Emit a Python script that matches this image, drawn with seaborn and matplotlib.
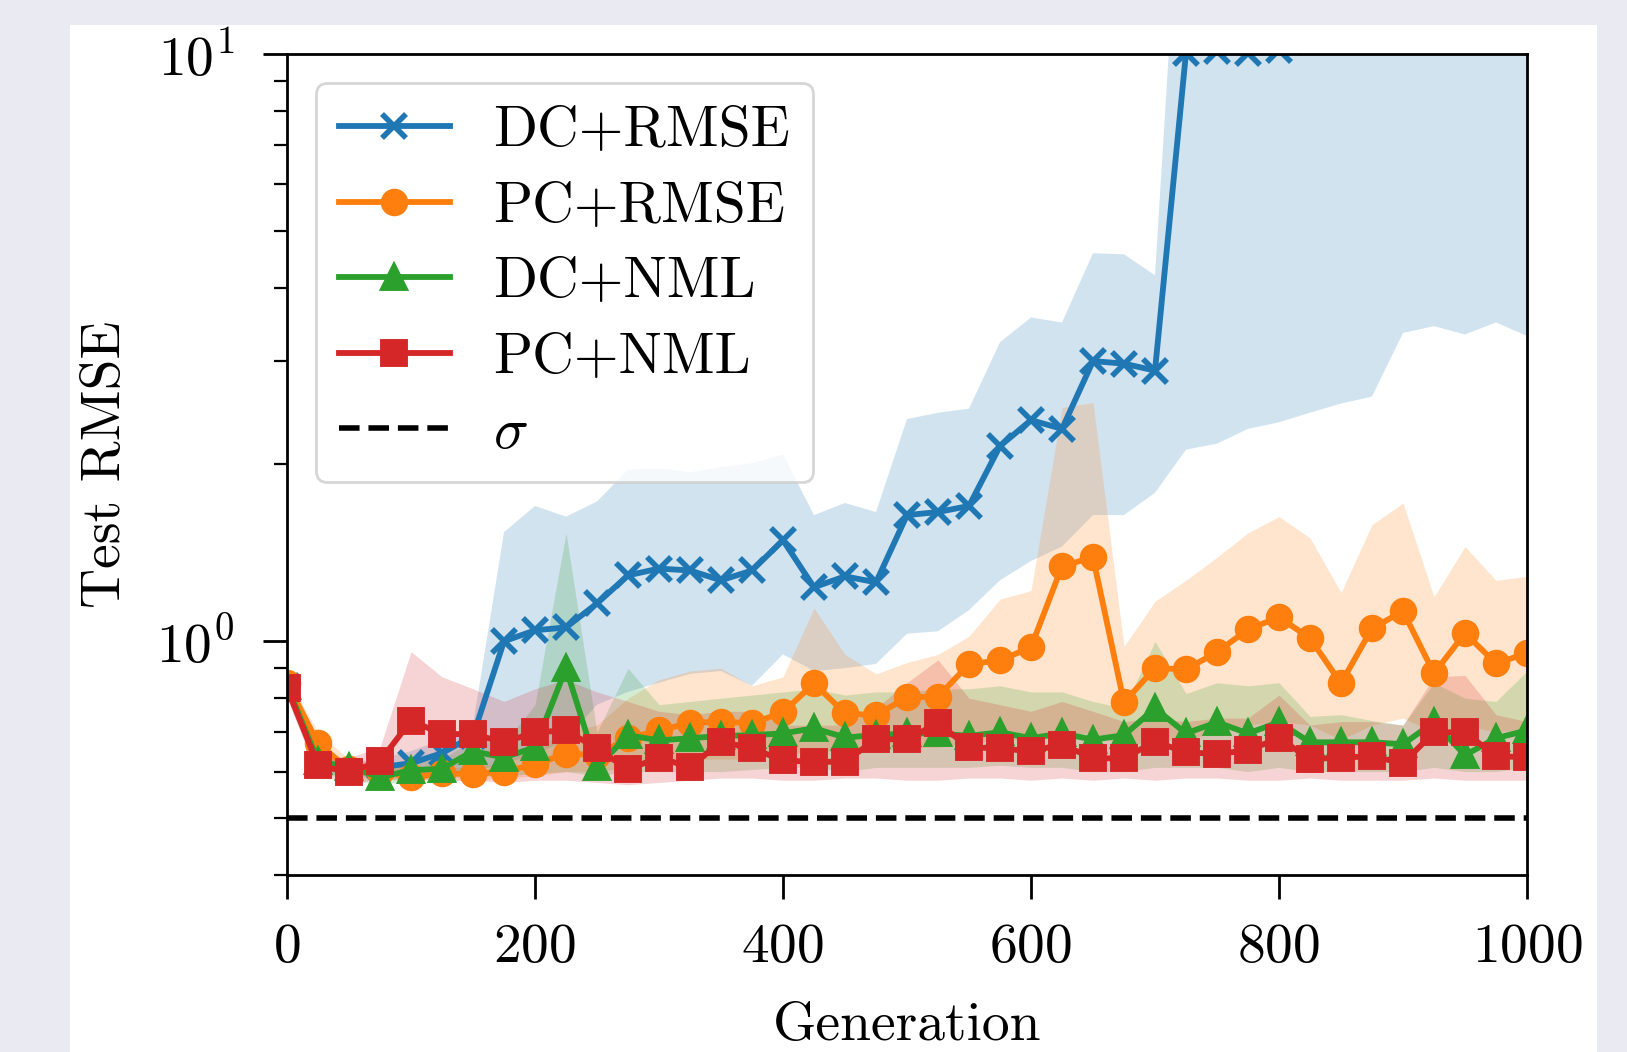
import numpy as np
import pandas as pd
import matplotlib
matplotlib.use("Agg")
import matplotlib.pyplot as plt
from matplotlib.patches import Rectangle
from matplotlib.ticker import NullFormatter, FixedLocator
import seaborn as sns

# ---------------- data ----------------
generation = list(range(0, 1001, 25))

dc_rmse = [0.84, 0.62, 0.60, 0.61, 0.62, 0.645, 0.69, 1.00, 1.044, 1.056, 1.16, 1.295, 1.33, 1.32,
           1.27, 1.32, 1.486, 1.236, 1.29, 1.26, 1.64, 1.66, 1.70, 2.15, 2.38, 2.30, 3.00, 2.97,
           2.89, 10.05, 10.1, 10.05, 10.15, 10.5, 13.0, 15.0, 17.0, 16.0, 18.0, 20.0, 19.0]
dc_rmse_lo = [0.82, 0.60, 0.585, 0.59, 0.59, 0.60, 0.60, 0.62, 0.64, 0.68, 0.78, 0.82, 0.85, 0.88,
              0.89, 0.84, 0.95, 0.89, 0.90, 0.915, 1.03, 1.04, 1.13, 1.27, 1.37, 1.45, 1.64, 1.64,
              1.79, 2.12, 2.17, 2.30, 2.36, 2.45, 2.54, 2.61, 3.35, 3.44, 3.33, 3.49, 3.31]
dc_rmse_hi = [0.86, 0.66, 0.62, 0.63, 0.65, 0.68, 0.72, 1.534, 1.70, 1.63, 1.73, 1.96, 1.97, 1.94,
              1.98, 2.01, 2.08, 1.64, 1.72, 1.66, 2.39, 2.45, 2.49, 3.23, 3.56, 3.49, 4.58, 4.56,
              4.20, 30.0, 32.0, 35.0, 35.0, 38.0, 40.0, 42.0, 45.0, 45.0, 48.0, 50.0, 50.0]

pc_rmse = [0.85, 0.67, 0.605, 0.60, 0.587, 0.596, 0.594, 0.60, 0.617, 0.644, 0.64, 0.684, 0.705,
           0.726, 0.73, 0.725, 0.757, 0.848, 0.754, 0.748, 0.803, 0.805, 0.914, 0.928, 0.977, 1.342,
           1.39, 0.787, 0.90, 0.896, 0.958, 1.048, 1.099, 1.012, 0.848, 1.052, 1.125, 0.882, 1.032,
           0.917, 0.954]
pc_rmse_lo = [0.83, 0.64, 0.59, 0.585, 0.575, 0.58, 0.58, 0.585, 0.59, 0.60, 0.60, 0.61, 0.62, 0.63,
              0.63, 0.63, 0.64, 0.65, 0.65, 0.65, 0.66, 0.66, 0.67, 0.68, 0.68, 0.69, 0.70, 0.66,
              0.68, 0.68, 0.70, 0.72, 0.73, 0.72, 0.68, 0.72, 0.74, 0.70, 0.72, 0.70, 0.71]
pc_rmse_hi = [0.87, 0.70, 0.63, 0.62, 0.61, 0.61, 0.61, 0.62, 0.66, 0.70, 0.72, 0.80, 0.86, 0.89,
              0.90, 0.84, 0.87, 1.14, 0.95, 0.88, 0.92, 0.95, 1.02, 1.18, 1.22, 2.50, 2.55, 0.98,
              1.17, 1.27, 1.39, 1.53, 1.63, 1.50, 1.21, 1.58, 1.72, 1.19, 1.45, 1.27, 1.29]

dc_nml = [0.84, 0.625, 0.61, 0.587, 0.603, 0.607, 0.65, 0.634, 0.66, 0.90, 0.61, 0.692, 0.678, 0.684,
          0.69, 0.692, 0.697, 0.711, 0.686, 0.692, 0.697, 0.697, 0.69, 0.70, 0.684, 0.697, 0.68,
          0.692, 0.769, 0.697, 0.728, 0.697, 0.728, 0.673, 0.673, 0.673, 0.668, 0.728, 0.64, 0.684,
          0.705]
dc_nml_lo = [0.82, 0.60, 0.58, 0.57, 0.58, 0.585, 0.59, 0.59, 0.595, 0.60, 0.59, 0.60, 0.60, 0.60,
             0.60, 0.605, 0.61, 0.61, 0.60, 0.61, 0.61, 0.61, 0.61, 0.615, 0.61, 0.61, 0.60, 0.60,
             0.61, 0.61, 0.61, 0.60, 0.61, 0.60, 0.60, 0.60, 0.60, 0.61, 0.60, 0.60, 0.61]
dc_nml_hi = [0.86, 0.65, 0.625, 0.61, 0.625, 0.63, 0.68, 0.67, 0.78, 1.53, 0.70, 0.90, 0.78, 0.79,
             0.80, 0.81, 0.82, 0.83, 0.81, 0.82, 0.82, 0.83, 0.83, 0.84, 0.82, 0.82, 0.79, 0.77,
             1.00, 0.815, 0.85, 0.84, 0.85, 0.745, 0.75, 0.733, 0.72, 0.85, 0.80, 0.79, 0.89]

pc_nml = [0.832, 0.615, 0.598, 0.625, 0.733, 0.695, 0.695, 0.673, 0.700, 0.705, 0.657, 0.605, 0.634,
          0.61, 0.675, 0.657, 0.627, 0.623, 0.624, 0.681, 0.681, 0.725, 0.66, 0.657, 0.65, 0.667,
          0.632, 0.632, 0.675, 0.647, 0.643, 0.652, 0.684, 0.63, 0.634, 0.637, 0.62, 0.70, 0.70,
          0.637, 0.635]
pc_nml_lo = [0.80, 0.59, 0.575, 0.58, 0.585, 0.58, 0.58, 0.575, 0.58, 0.58, 0.575, 0.57, 0.575, 0.58,
             0.585, 0.585, 0.58, 0.58, 0.585, 0.585, 0.58, 0.58, 0.585, 0.585, 0.58, 0.585, 0.58,
             0.585, 0.58, 0.585, 0.585, 0.58, 0.58, 0.585, 0.58, 0.58, 0.58, 0.585, 0.58, 0.58, 0.58]
pc_nml_hi = [0.86, 0.64, 0.634, 0.66, 0.96, 0.87, 0.83, 0.79, 0.83, 0.86, 0.82, 0.79, 0.76, 0.75,
             0.76, 0.76, 0.72, 0.72, 0.72, 0.77, 0.85, 0.93, 0.80, 0.78, 0.76, 0.79, 0.76, 0.73,
             0.74, 0.73, 0.74, 0.74, 0.81, 0.72, 0.73, 0.73, 0.72, 0.87, 0.875, 0.75, 0.73]

sigma = 0.5

series_names = ["DC+RMSE", "PC+RMSE", "DC+NML", "PC+NML"]
series_means = [dc_rmse, pc_rmse, dc_nml, pc_nml]
series_lo = [dc_rmse_lo, pc_rmse_lo, dc_nml_lo, pc_nml_lo]
series_hi = [dc_rmse_hi, pc_rmse_hi, dc_nml_hi, pc_nml_hi]
colors = ["#1f77b4", "#ff7f0e", "#2ca02c", "#d62728"]
markers = ["x", "o", "^", "s"]

# ---------------- style ----------------
plt.rcParams.update({
    "font.family": "serif",
    "font.serif": ["cmr10"],
    "mathtext.fontset": "cm",
    "axes.unicode_minus": False,
    "axes.formatter.use_mathtext": True,
})

fig = plt.figure(figsize=(16.27, 10.52), dpi=100)
fig.patch.set_facecolor("#EAEAF2")
fig.add_artist(Rectangle((70 / 1627, 0), (1597 - 70) / 1627, 1 - 25 / 1052,
                         transform=fig.transFigure, facecolor="white",
                         edgecolor="none", zorder=0))

ax = fig.add_axes([287 / 1627, 1 - 875 / 1052, (1527 - 287) / 1627, (875 - 54) / 1052])
ax.set_facecolor("white")

for name, m, lo, hi, c, mk in zip(series_names, series_means, series_lo, series_hi, colors, markers):
    df = pd.DataFrame({"Generation": generation, "Test RMSE": m})
    sns.lineplot(data=df, x="Generation", y="Test RMSE", ax=ax, color=c, marker=mk,
                 markersize=17, markeredgewidth=2.8 if mk != "x" else 4.0,
                 markeredgecolor=c, markerfacecolor=c, linewidth=4.2, label=name)
    ax.fill_between(generation, lo, hi, color=c, alpha=0.2, linewidth=0)

ax.axhline(sigma, color="black", linestyle="--", linewidth=4, label=r"$\sigma$")

ax.set_yscale("log")
ax.set_ylim(0.4, 10)
ax.set_xlim(0, 1000)
ax.xaxis.set_major_locator(FixedLocator([0, 200, 400, 600, 800, 1000]))
ax.yaxis.set_minor_formatter(NullFormatter())

for sp in ax.spines.values():
    sp.set_linewidth(2)
    sp.set_color("black")

ax.tick_params(which="major", length=17, width=2, labelsize=40, direction="out")
ax.tick_params(axis="x", which="major", pad=18)
ax.tick_params(axis="y", which="major", pad=21)
ax.tick_params(which="minor", length=9.5, width=1.6, direction="out")

ax.set_xlabel("Generation", fontsize=40, labelpad=20)
ax.set_ylabel("Test RMSE", fontsize=40, labelpad=18)
ax.grid(False)

leg = ax.legend(loc="upper left", fontsize=41.5, frameon=True, fancybox=True,
                framealpha=0.8, edgecolor="0.8", labelspacing=0.42,
                handlelength=1.93, handletextpad=0.75)
leg.get_frame().set_linewidth(2)

fig.savefig("out.png", dpi=100, facecolor=fig.get_facecolor())
